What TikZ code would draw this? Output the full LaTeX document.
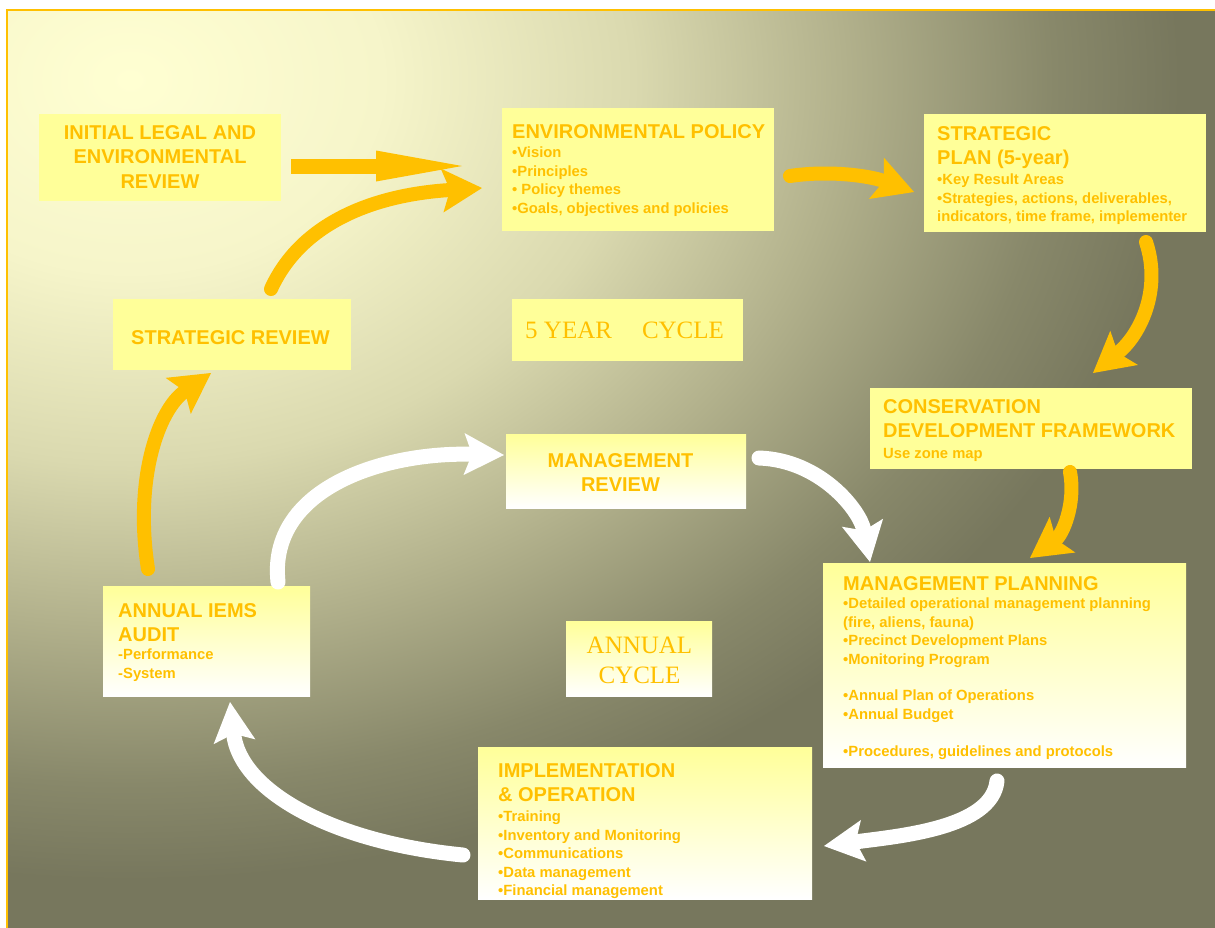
\documentclass[tikz,border=0pt]{standalone}
\usepackage{fontspec}
\setmainfont{Liberation Sans}
\newfontfamily\serifcap{Liberation Serif}
\usetikzlibrary{arrows.meta}
\definecolor{gold}{HTML}{FFC000}
\definecolor{boxy}{HTML}{FFFF99}
\definecolor{bgA}{RGB}{255,255,210}
\definecolor{bgB}{RGB}{246,245,202}
\definecolor{bgC}{RGB}{218,217,175}
\definecolor{bgD}{RGB}{178,177,140}
\definecolor{bgE}{RGB}{136,136,106}
\definecolor{bgF}{RGB}{119,119,93}
\pgfdeclareradialshading{bgshade}{\pgfpoint{0bp}{0bp}}{color(0bp)=(bgA); color(3bp)=(bgB); color(6bp)=(bgC); color(8.5bp)=(bgD); color(11bp)=(bgE); color(12.5bp)=(bgF); color(50bp)=(bgF)}
\tikzset{
  solidbox/.style={fill=boxy, draw=none, inner sep=0pt, anchor=north west},
  gradbox/.style={top color=boxy, bottom color=white, draw=none, inner sep=0pt, anchor=north west},
  titletext/.style={text=gold, inner sep=0pt, anchor=north west, align=left, font=\fontsize{20}{24.5}\selectfont\bfseries},
  itemtext/.style={text=gold, inner sep=0pt, anchor=north west, align=left, font=\fontsize{14.8}{18.4}\selectfont\bfseries},
  cycletext/.style={text=gold, inner sep=0pt, align=center, font=\fontsize{25}{30}\selectfont\serifcap},
  goldarrow/.style={draw=gold, line width=14pt, line cap=round, -{Stealth[length=40pt, width=44pt, inset=8pt, line width=0pt]}},
  whitearrow/.style={draw=white, line width=15pt, line cap=round, -{Stealth[length=40pt, width=42pt, inset=8pt, line width=0pt]}},
}
\begin{document}
\begin{tikzpicture}[x=1pt, y=-1pt]
\useasboundingbox (0,0) rectangle (1215,927);
\fill[white] (0,0) rectangle (1215,927);
\begin{scope}
  \clip (7,10) rectangle (1215,927);
  \shade[shading=bgshade] (130,80) ellipse (2100 and 1600);
\end{scope}
\draw[gold, line width=2pt] (7,940) -- (7,10) -- (1230,10);

% boxes
\node[solidbox, minimum width=242, minimum height=87] (ilr) at (39,114) {};
\node[solidbox, minimum width=272, minimum height=123] (ep) at (502,108) {};
\node[solidbox, minimum width=282, minimum height=118] (sp) at (924,114) {};
\node[solidbox, minimum width=231, minimum height=62] (fyc) at (512,299) {};
\node[solidbox, minimum width=238, minimum height=71] (sr) at (113,299) {};
\node[solidbox, minimum width=322, minimum height=81] (cdf) at (870,388) {};
\node[gradbox, minimum width=240, minimum height=74] (mr) at (506,434) {};
\node[gradbox, minimum width=363, minimum height=204] (mp) at (823,563) {};
\node[gradbox, minimum width=207, minimum height=110] (aud) at (103,586) {};
\node[gradbox, minimum width=146, minimum height=75] (ac) at (566,621) {};
\node[gradbox, minimum width=334, minimum height=152] (io) at (478,747) {};

% texts
\node[titletext, anchor=center, align=center] (ilrT) at (160,157) {INITIAL LEGAL AND\\ENVIRONMENTAL\\REVIEW};
\node[titletext] (epT) at (512,124) {ENVIRONMENTAL POLICY};
\node[itemtext] (epI) at (512,147) {•Vision\\•Principles\\• Policy themes\\•Goals, objectives and policies};
\node[titletext] (spT) at (937,126) {STRATEGIC\\PLAN (5-year)};
\node[itemtext] (spI) at (937,174) {•Key Result Areas\\•Strategies, actions, deliverables,\\indicators, time frame, implementer};
\node[cycletext, anchor=north west] (fycT) at (525,322) {5 YEAR\hspace{30pt}CYCLE};
\node[titletext, anchor=center] (srT) at (230.5,338) {STRATEGIC REVIEW};
\node[titletext] (cdfT) at (883,399) {CONSERVATION\\DEVELOPMENT FRAMEWORK};
\node[itemtext] (cdfI) at (883,448) {Use zone map};
\node[titletext, anchor=center, align=center] (mrT) at (620.5,472.5) {MANAGEMENT\\REVIEW};
\node[titletext] (mpT) at (843,576) {MANAGEMENT PLANNING};
\node[itemtext] (mpI) at (843,598) {•Detailed operational management planning\\(fire, aliens, fauna)\\•Precinct Development Plans\\•Monitoring Program\\[18.4pt]•Annual Plan of Operations\\•Annual Budget\\[18.4pt]•Procedures, guidelines and protocols};
\node[titletext] (audT) at (118,603) {ANNUAL IEMS\\AUDIT};
\node[itemtext, font=\fontsize{14.8}{19}\selectfont\bfseries] (audI) at (118,649) {-Performance\\-System};
\node[cycletext, anchor=center] (acT) at (639.5,660) {ANNUAL\\CYCLE};
\node[titletext] (ioT) at (498,763) {IMPLEMENTATION\\\& OPERATION};
\node[itemtext] (ioI) at (498,811) {•Training\\•Inventory and Monitoring\\•Communications\\•Data management\\•Financial management};

% connector end points
\coordinate (a1s) at (291,166); \coordinate (a1e) at (462,166);
\coordinate (a2s) at (271,289); \coordinate (a2e) at (482,188);
\coordinate (a3s) at (790,176); \coordinate (a3e) at (914,192);
\coordinate (a4s) at (1146,242); \coordinate (a4e) at (1093,373);
\coordinate (a5s) at (1070,472); \coordinate (a5e) at (1030,558);
\coordinate (a6s) at (148,569); \coordinate (a6e) at (211,373);
\coordinate (a7s) at (278,582); \coordinate (a7e) at (504,455);
\coordinate (a8s) at (759,458); \coordinate (a8e) at (870,562);
\coordinate (a9s) at (997,781); \coordinate (a9e) at (824,846);
\coordinate (a10s) at (463,855); \coordinate (a10e) at (230,702);

% gold arrows (5-year cycle)
\draw[draw=gold, line width=15pt, -{Triangle[length=86pt, width=31pt, line width=0pt]}] (a1s) -- (a1e);
\draw[goldarrow] (a2s) .. controls (300,225) and (370,195) .. (a2e);
\draw[goldarrow] (a3s) .. controls (830,170) and (870,176) .. (a3e);
\draw[goldarrow] (a4s) .. controls (1162,290) and (1140,335) .. (a4e);
\draw[goldarrow] (a5s) .. controls (1076,505) and (1062,535) .. (a5e);
\draw[goldarrow] (a6s) .. controls (134,480) and (158,410) .. (a6e);

% white arrows (annual cycle)
\draw[whitearrow] (a7s) .. controls (268,490) and (380,452) .. (a7e);
\draw[whitearrow] (a8s) .. controls (820,460) and (860,510) .. (a8e);
\draw[whitearrow] (a9s) .. controls (992,828) and (900,836) .. (a9e);
\draw[whitearrow] (a10s) .. controls (330,842) and (240,790) .. (a10e);
\end{tikzpicture}
\end{document}
